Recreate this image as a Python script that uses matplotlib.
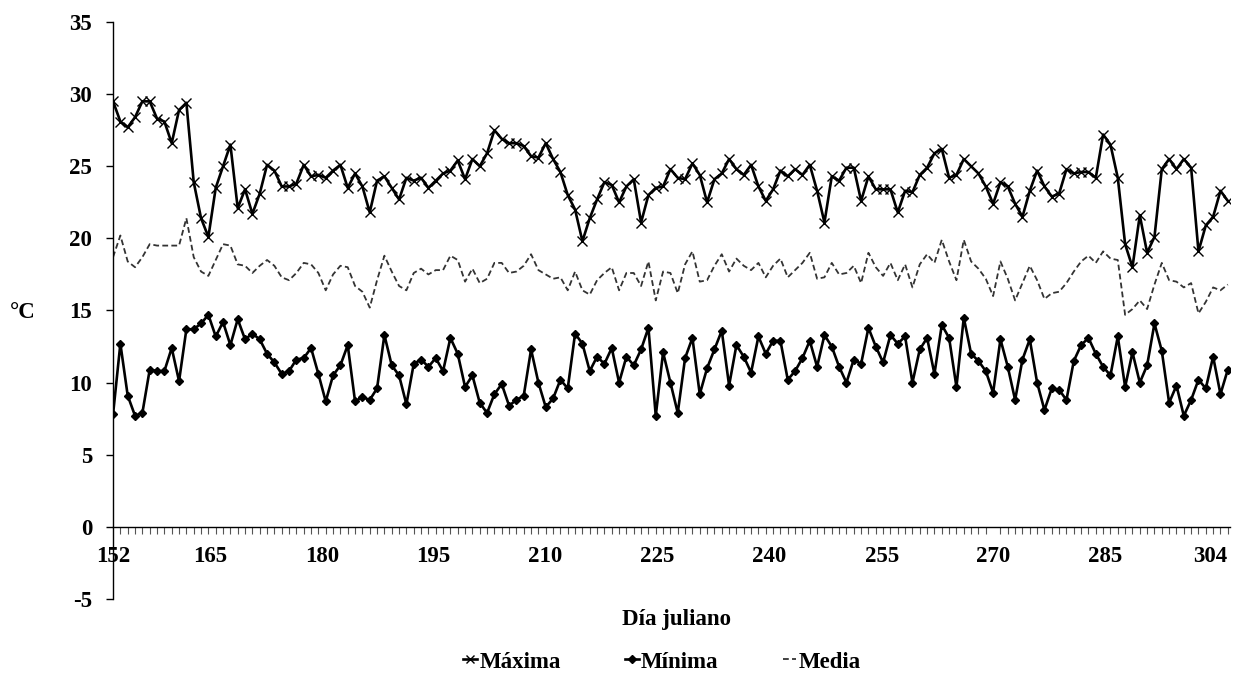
import numpy as np
import matplotlib
matplotlib.use("Agg")
import matplotlib.pyplot as plt
from matplotlib.ticker import FixedLocator, MultipleLocator

# días julianos 152..304
dias = np.arange(152, 305)

maxima = [
    29.5, 28.1, 27.7, 28.4, 29.5, 29.5, 28.3, 28.1, 26.6, 28.9,
    29.4, 23.9, 21.4, 20.1, 23.5, 25.0, 26.5, 22.1, 23.4, 21.7,
    23.1, 25.1, 24.7, 23.6, 23.6, 23.8, 25.1, 24.3, 24.4, 24.2,
    24.7, 25.1, 23.5, 24.5, 23.6, 21.8, 24.0, 24.3, 23.5, 22.7,
    24.2, 24.0, 24.2, 23.5, 24.0, 24.5, 24.7, 25.4, 24.1, 25.5,
    25.0, 25.9, 27.5, 26.9, 26.6, 26.6, 26.4, 25.7, 25.6, 26.6,
    25.5, 24.6, 23.0, 22.0, 19.8, 21.4, 22.7, 23.9, 23.7, 22.5,
    23.6, 24.1, 21.1, 23.0, 23.5, 23.6, 24.8, 24.2, 24.1, 25.2,
    24.4, 22.5, 24.1, 24.5, 25.5, 24.8, 24.4, 25.1, 23.6, 22.6,
    23.4, 24.7, 24.3, 24.8, 24.4, 25.1, 23.3, 21.1, 24.3, 24.0,
    24.9, 24.9, 22.6, 24.3, 23.4, 23.4, 23.4, 21.8, 23.3, 23.2,
    24.4, 24.9, 25.9, 26.2, 24.2, 24.4, 25.5, 25.0, 24.5, 23.6,
    22.4, 23.9, 23.6, 22.4, 21.5, 23.3, 24.7, 23.6, 22.9, 23.1,
    24.8, 24.5, 24.6, 24.6, 24.2, 27.2, 26.5, 24.2, 19.6, 18.0,
    21.6, 19.0, 20.1, 24.8, 25.5, 24.8, 25.5, 24.9, 19.1, 20.9,
    21.5, 23.3, 22.6,
]

minima = [
    7.8, 12.7, 9.1, 7.7, 7.9, 10.9, 10.8, 10.8, 12.4, 10.1,
    13.7, 13.7, 14.1, 14.7, 13.2, 14.2, 12.6, 14.4, 13.0, 13.4,
    13.0, 12.0, 11.4, 10.6, 10.8, 11.6, 11.7, 12.4, 10.6, 8.7,
    10.5, 11.2, 12.6, 8.7, 9.0, 8.8, 9.6, 13.3, 11.2, 10.5,
    8.5, 11.3, 11.6, 11.1, 11.7, 10.8, 13.1, 12.0, 9.7, 10.5,
    8.6, 7.9, 9.2, 9.9, 8.4, 8.8, 9.1, 12.3, 10.0, 8.3,
    8.9, 10.2, 9.6, 13.4, 12.7, 10.8, 11.8, 11.3, 12.4, 10.0,
    11.8, 11.2, 12.3, 13.8, 7.7, 12.1, 10.0, 7.9, 11.7, 13.1,
    9.2, 11.0, 12.3, 13.6, 9.8, 12.6, 11.8, 10.7, 13.2, 12.0,
    12.9, 12.9, 10.2, 10.8, 11.7, 12.9, 11.1, 13.3, 12.5, 11.1,
    10.0, 11.6, 11.3, 13.8, 12.5, 11.4, 13.3, 12.7, 13.2, 10.0,
    12.3, 13.1, 10.6, 14.0, 13.1, 9.7, 14.5, 12.0, 11.5, 10.8,
    9.3, 13.0, 11.1, 8.8, 11.6, 13.0, 10.0, 8.1, 9.6, 9.5,
    8.8, 11.5, 12.6, 13.1, 12.0, 11.1, 10.5, 13.2, 9.7, 12.1,
    10.0, 11.2, 14.1, 12.2, 8.6, 9.8, 7.7, 8.8, 10.2, 9.6,
    11.8, 9.2, 10.9,
]

media = [
    18.7, 20.2, 18.4, 18.0, 18.7, 19.6, 19.5, 19.5, 19.5, 19.5,
    21.4, 18.7, 17.7, 17.4, 18.5, 19.6, 19.5, 18.2, 18.1, 17.6,
    18.1, 18.5, 18.1, 17.3, 17.1, 17.6, 18.3, 18.2, 17.6, 16.4,
    17.5, 18.1, 18.0, 16.7, 16.3, 15.2, 17.1, 18.8, 17.7, 16.7,
    16.4, 17.6, 17.9, 17.5, 17.8, 17.8, 18.8, 18.5, 17.0, 17.9,
    16.9, 17.2, 18.3, 18.3, 17.6, 17.7, 18.1, 18.9, 17.8, 17.5,
    17.2, 17.3, 16.4, 17.7, 16.4, 16.1, 17.1, 17.6, 18.0, 16.4,
    17.6, 17.6, 16.7, 18.4, 15.7, 17.7, 17.6, 16.2, 18.2, 19.1,
    17.0, 17.1, 18.1, 18.9, 17.7, 18.6, 18.1, 17.8, 18.3, 17.3,
    18.1, 18.6, 17.3, 17.8, 18.3, 19.0, 17.2, 17.3, 18.3, 17.5,
    17.6, 18.1, 16.9, 19.0, 18.0, 17.4, 18.3, 17.1, 18.2, 16.6,
    18.2, 18.9, 18.3, 19.9, 18.4, 17.1, 19.9, 18.4, 17.9, 17.2,
    16.0, 18.4, 17.2, 15.7, 16.9, 18.1, 17.1, 15.8, 16.2, 16.3,
    16.9, 17.7, 18.4, 18.8, 18.3, 19.1, 18.6, 18.5, 14.7, 15.1,
    15.7, 15.1, 16.8, 18.3, 17.1, 17.0, 16.6, 16.9, 14.8, 15.6,
    16.6, 16.4, 16.8,
]

etiquetas_x = [152, 165, 180, 195, 210, 225, 240, 255, 270, 285, 304]
# en el original las etiquetas quedan un poco corridas respecto a los datos
pos_etiquetas = [152, 165.2, 180.5, 195.7, 210.9, 226.2, 241.5, 256.8,
                 272.0, 287.3, 301.6]

plt.rcParams['font.family'] = ['Liberation Serif', 'DejaVu Serif']
plt.rcParams['font.weight'] = 'bold'
plt.rcParams['axes.unicode_minus'] = False
fs = 16.5

fig = plt.figure(figsize=(12.56, 6.75), dpi=100)
ax = fig.add_axes([0.09, 0.1126, 0.8893, 0.8548])

ax.plot(dias, maxima, color='black', lw=1.9, marker='x', ms=6.5, mew=1.0,
        label='Máxima')
ax.plot(dias, minima, color='black', lw=1.9, marker='D', ms=4.5,
        label='Mínima')
ax.plot(dias, media, color='#333333', lw=1.3, dashes=(3.2, 1.8),
        label='Media')

ax.set_xlim(152, 304.3)
ax.set_ylim(-5, 35)

# ejes estilo excel
ax.spines['top'].set_visible(False)
ax.spines['right'].set_visible(False)
ax.spines['bottom'].set_position(('data', 0))
ax.spines['left'].set_linewidth(1.0)
ax.spines['bottom'].set_linewidth(1.0)

ax.yaxis.set_major_locator(MultipleLocator(5))
ax.tick_params(axis='y', direction='out', length=5, width=1, pad=10,
               labelsize=fs)
for t in ax.get_yticklabels():
    t.set_fontweight('bold')

# marcas cada día (menores); las etiquetas van sin marca propia
ax.xaxis.set_major_locator(FixedLocator(pos_etiquetas))
ax.xaxis.set_minor_locator(MultipleLocator(1))
ax.tick_params(axis='x', which='minor', direction='out', length=5,
               width=0.8, color='#555555')
ax.tick_params(axis='x', which='major', length=0, pad=14, labelsize=fs)
ax.set_xticklabels([str(v) for v in etiquetas_x], fontweight='bold')

fig.text(23 / 1256, 1 - 312 / 675, '°C', fontsize=fs, fontweight='bold',
         ha='center', va='center')
fig.text(677 / 1256, 1 - 620 / 675, 'Día juliano', fontsize=fs,
         fontweight='bold', ha='center', va='center')

fig.legend(loc='center', bbox_to_anchor=(662 / 1256, 1 - 662 / 675),
           ncol=3, frameon=False, handlelength=0.6,
           handletextpad=0.1, columnspacing=2.8, markerscale=0.8,
           prop={'weight': 'bold', 'size': fs})

fig.savefig('out.png', dpi=100)
